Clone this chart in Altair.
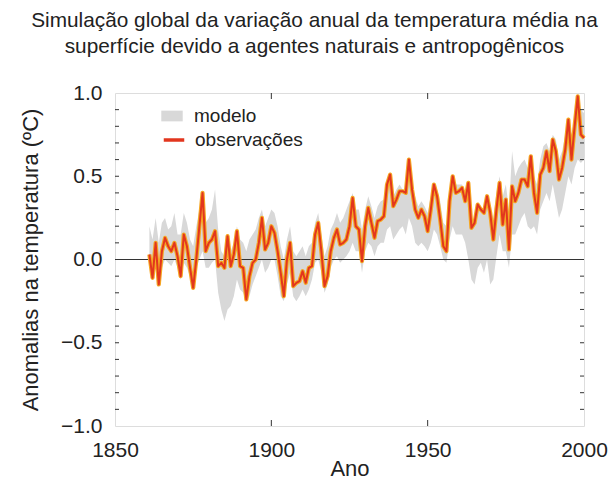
import altair as alt
import pandas as pd

# ---------------- data ----------------
years = list(range(1861, 2001))

obs = [
    0.03, -0.11, 0.10, -0.15, 0.05, 0.13, 0.08, 0.05, 0.10, 0.02,
    -0.10, 0.15, 0.08, -0.05, -0.17, 0.00, 0.20, 0.40, 0.05, 0.10,
    0.12, 0.17, -0.04, -0.02, -0.05, 0.14, -0.04, 0.03, 0.17, -0.04,
    -0.05, -0.24, -0.10, -0.02, 0.00, 0.10, 0.25, 0.06, 0.10, 0.20,
    0.16, 0.05, -0.08, -0.22, 0.00, 0.10, -0.16, -0.14, -0.13, -0.07,
    -0.14, -0.05, -0.04, 0.15, 0.22, 0.05, -0.16, -0.10, 0.05, 0.13,
    0.18, 0.09, 0.10, 0.12, 0.20, 0.37, 0.20, 0.18, -0.01, 0.20,
    0.31, 0.22, 0.13, 0.23, 0.24, 0.26, 0.45, 0.51, 0.32, 0.36,
    0.41, 0.41, 0.40, 0.60, 0.42, 0.30, 0.25, 0.30, 0.26, 0.17,
    0.30, 0.45, 0.38, 0.24, 0.08, 0.05, 0.35, 0.50, 0.40, 0.41,
    0.43, 0.35, 0.46, 0.19, 0.22, 0.33, 0.30, 0.28, 0.38, 0.28,
    0.12, 0.30, 0.46, 0.21, 0.36, 0.06, 0.44, 0.35, 0.40, 0.48,
    0.48, 0.44, 0.62, 0.40, 0.28, 0.51, 0.55, 0.65, 0.53, 0.72,
    0.65, 0.48, 0.55, 0.66, 0.84, 0.60, 0.80, 0.98, 0.75, 0.73,
]

mod_lo = [
    -0.05, -0.12, -0.05, -0.15, -0.05, 0.00, -0.02, -0.04, 0.00, -0.05,
    -0.12, -0.02, -0.05, -0.10, -0.15, -0.05, 0.00, 0.05, -0.05, -0.05,
    -0.02, 0.00, -0.20, -0.30, -0.37, -0.30, -0.28, -0.22, -0.12, -0.18,
    -0.20, -0.25, -0.22, -0.15, -0.10, -0.05, 0.00, -0.08, -0.05, 0.00,
    0.00, -0.10, -0.22, -0.25, -0.15, -0.08, -0.22, -0.25, -0.22, -0.18,
    -0.22, -0.18, -0.12, -0.02, 0.00, -0.08, -0.20, -0.15, -0.05, 0.00,
    0.02, -0.02, 0.00, 0.02, 0.05, 0.10, 0.05, 0.05, -0.08, 0.05,
    0.10, 0.08, 0.02, 0.08, 0.10, 0.10, 0.18, 0.20, 0.12, 0.15,
    0.18, 0.20, 0.15, 0.25, 0.20, 0.10, 0.08, 0.10, 0.08, 0.05,
    0.10, 0.18, 0.15, 0.08, 0.00, -0.02, 0.12, 0.20, 0.15, 0.15,
    0.15, 0.10, 0.00, -0.12, -0.15, -0.05, -0.02, -0.08, 0.00, -0.15,
    -0.12, 0.02, 0.15, 0.05, 0.05, -0.05, 0.15, 0.15, 0.20, 0.25,
    0.28, 0.20, 0.18, 0.20, 0.15, 0.30, 0.35, 0.40, 0.35, 0.45,
    0.35, 0.25, 0.30, 0.40, 0.50, 0.45, 0.55, 0.60, 0.58, 0.60,
]

mod_hi = [
    0.20, 0.12, 0.25, 0.10, 0.22, 0.25, 0.18, 0.20, 0.28, 0.15,
    0.15, 0.28, 0.22, 0.12, 0.08, 0.20, 0.30, 0.40, 0.22, 0.25,
    0.30, 0.42, 0.18, 0.05, 0.02, 0.12, 0.05, 0.10, 0.20, 0.12,
    0.10, 0.05, 0.12, 0.15, 0.18, 0.25, 0.30, 0.20, 0.25, 0.30,
    0.28, 0.20, 0.08, 0.00, 0.12, 0.20, 0.05, 0.02, 0.05, 0.08,
    0.02, 0.08, 0.10, 0.22, 0.28, 0.15, 0.02, 0.08, 0.18, 0.22,
    0.28, 0.22, 0.25, 0.30, 0.35, 0.40, 0.30, 0.30, 0.18, 0.30,
    0.38, 0.32, 0.25, 0.32, 0.35, 0.36, 0.45, 0.48, 0.38, 0.42,
    0.45, 0.42, 0.42, 0.50, 0.45, 0.38, 0.32, 0.35, 0.32, 0.28,
    0.38, 0.45, 0.42, 0.35, 0.22, 0.20, 0.42, 0.48, 0.45, 0.45,
    0.45, 0.40, 0.38, 0.20, 0.22, 0.30, 0.32, 0.28, 0.38, 0.30,
    0.25, 0.40, 0.50, 0.38, 0.45, 0.30, 0.65, 0.50, 0.55, 0.58,
    0.60, 0.55, 0.62, 0.50, 0.45, 0.60, 0.68, 0.70, 0.65, 0.75,
    0.72, 0.60, 0.65, 0.75, 0.85, 0.75, 0.85, 0.95, 0.90, 0.88,
]

x_ticks = [1850, 1900, 1950, 2000]
x_inner_ticks = [1900, 1950]
y_ticks = [-1.0, -0.5, 0.0, 0.5, 1.0]
y_minor = [-0.9, -0.8, -0.7, -0.6, -0.5, -0.4, -0.3, -0.2, -0.1, 0.0,
           0.1, 0.2, 0.3, 0.4, 0.5, 0.6, 0.7, 0.8, 0.9]

title_lines = ["Simulação global da variação anual da temperatura média na",
               "superfície devido a agentes naturais e antropogênicos"]
series = ["modelo", "observações"]

# ---------------- chart ----------------
FONT = "Liberation Sans"
TXT = "#222222"
TICK = "#333333"

model_df = pd.DataFrame({"ano": years, "lo": mod_lo, "hi": mod_hi, "serie": series[0]})
obs_df = pd.DataFrame({"ano": years, "v": obs, "serie": series[1]})
ytick_df = pd.DataFrame({"t": y_minor})
xtick_df = pd.DataFrame({"t": x_inner_ticks})

xscale = alt.Scale(domain=[1850, 2000], nice=False, zero=False)
yscale = alt.Scale(domain=[-1, 1], nice=False)

xaxis = alt.Axis(values=x_ticks, format="d", title="Ano", grid=False, ticks=False,
                 domain=False, labelFontSize=21, labelFont=FONT, labelColor=TXT,
                 labelPadding=13, titleFontSize=22, titleFont=FONT, titleColor=TXT,
                 titleFontWeight="normal", titlePadding=-2, labelFlush=False)
yaxis = alt.Axis(values=y_ticks, format=".1f", title="Anomalias na temperatura (ºC)",
                 grid=False, ticks=False, domain=False, labelFontSize=21,
                 labelFont=FONT, labelColor=TXT, labelPadding=13, titleFontSize=22,
                 titleFont=FONT, titleColor=TXT, titleFontWeight="normal",
                 titlePadding=18, labelFlush=False)


def X(f):
    return alt.X(f, scale=xscale, axis=xaxis)


def Y(f):
    return alt.Y(f, scale=yscale, axis=yaxis)


band = alt.Chart(model_df).mark_area(opacity=1, interpolate="linear").encode(
    x=X("ano:Q"),
    y=Y("lo:Q"),
    y2="hi:Q",
    fill=alt.Fill("serie:N",
                  scale=alt.Scale(domain=[series[0]], range=["#d8d8d8"]),
                  legend=alt.Legend(title=None, orient="none", legendX=46, legendY=12,
                                    symbolType="M-1,-0.5L1,-0.5L1,0.5L-1,0.5Z",
                                    symbolSize=460, symbolStrokeWidth=0,
                                    labelFontSize=19, labelFont=FONT, labelColor=TXT,
                                    labelOffset=11, padding=0)),
)

zero = alt.Chart(pd.DataFrame({"z": [0.0]})).mark_rule(color=TICK, strokeWidth=1).encode(
    y=Y("z:Q"))

halo = alt.Chart(obs_df).mark_line(color="#f5a623", strokeWidth=4.2, strokeJoin="round").encode(
    x=X("ano:Q"), y=Y("v:Q"))

red = alt.Chart(obs_df).mark_line(strokeWidth=2.0, strokeJoin="round").encode(
    x=X("ano:Q"), y=Y("v:Q"),
    stroke=alt.Stroke("serie:N",
                      scale=alt.Scale(domain=[series[1]], range=["#e2361e"]),
                      legend=alt.Legend(title=None, orient="none", legendX=47, legendY=35,
                                        symbolType="stroke", symbolSize=420,
                                        symbolStrokeWidth=3.5,
                                        labelFontSize=19, labelFont=FONT, labelColor=TXT,
                                        labelOffset=9, padding=0)),
)

# inward ticks on the frame, positioned through the scales
tick_l = alt.Chart(ytick_df).mark_rule(color=TICK, x2Offset=4).encode(
    y=Y("t:Q"), x=alt.datum(1850), x2=alt.datum(1850))
tick_r = alt.Chart(ytick_df).mark_rule(color=TICK, xOffset=-4).encode(
    y=Y("t:Q"), x=alt.datum(2000), x2=alt.datum(2000))
tick_t = alt.Chart(xtick_df).mark_rule(color=TICK, y2Offset=6).encode(
    x=X("t:Q"), y=alt.datum(1.0), y2=alt.datum(1.0))
tick_b = alt.Chart(xtick_df).mark_rule(color=TICK, yOffset=-6).encode(
    x=X("t:Q"), y=alt.datum(-1.0), y2=alt.datum(-1.0))

chart = alt.layer(band, zero, halo, red, tick_l, tick_r, tick_t, tick_b).properties(
    width=600, height=471,
    autosize=alt.AutoSizeParams(type="fit", contains="padding"),
    title=alt.TitleParams(text=title_lines, fontSize=20.8, font=FONT, fontWeight="normal",
                          color=TXT, anchor="middle", frame="bounds", dx=1,
                          lineHeight=26, offset=24),
    padding={"left": 11, "top": 2, "right": 0, "bottom": 0},
).configure_view(stroke=TICK, strokeWidth=1.2).configure(background="white")

chart.save("out.html", embed_options={"renderer": "svg", "actions": False})
